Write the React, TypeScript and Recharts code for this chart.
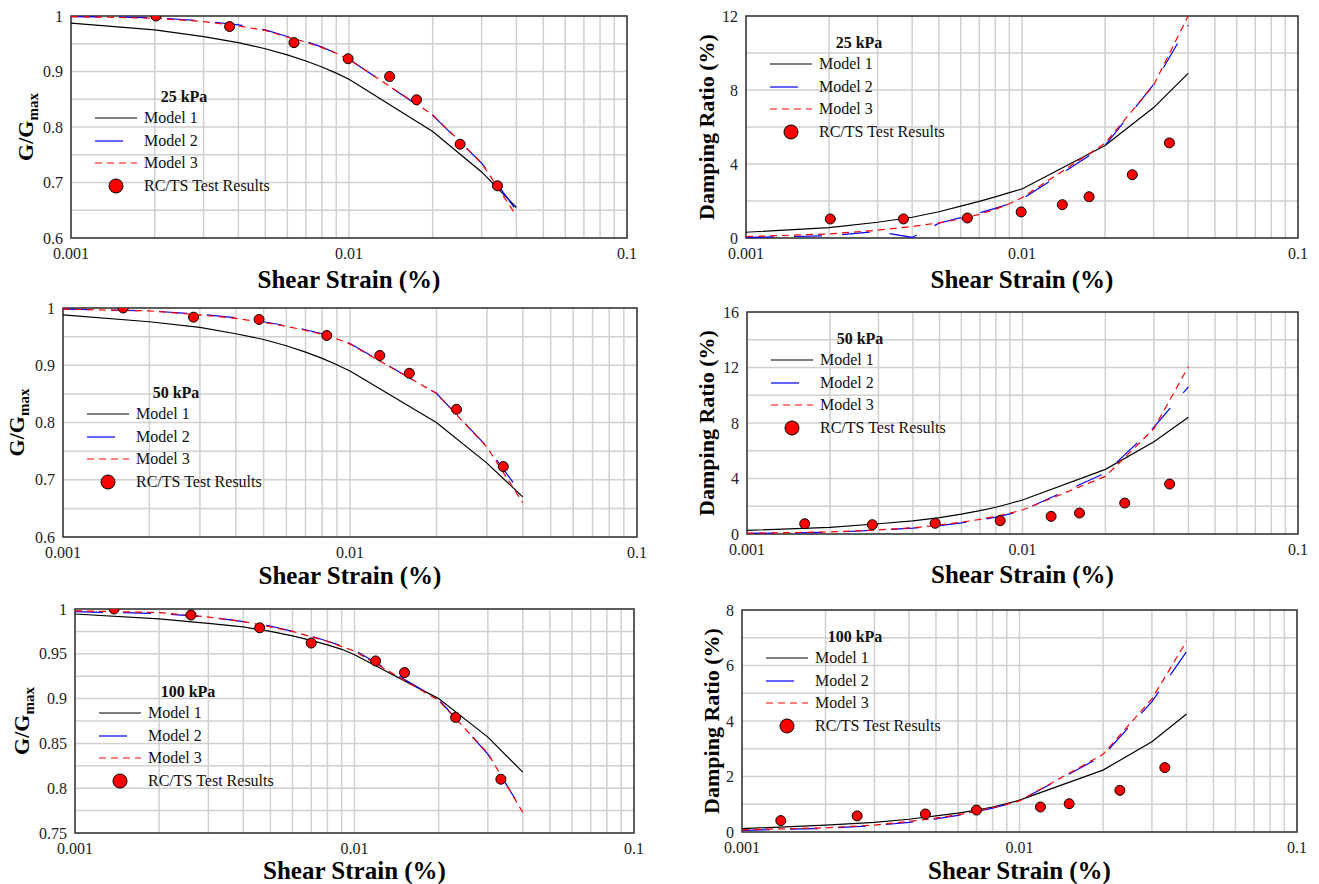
import React from "react";
import {
  ComposedChart,
  Line,
  Scatter,
  XAxis,
  YAxis,
  CartesianGrid,
  ReferenceArea,
} from "recharts";

const FONT = '"Liberation Serif", "Times New Roman", serif';

// strain values (%) at which the three models are evaluated
const strain = [0.001, 0.002, 0.003, 0.004, 0.005, 0.006, 0.007, 0.008, 0.009, 0.01, 0.02, 0.03, 0.04];

const xTicks = [
  0.001, 0.002, 0.003, 0.004, 0.005, 0.006, 0.007, 0.008, 0.009,
  0.01, 0.02, 0.03, 0.04, 0.05, 0.06, 0.07, 0.08, 0.09, 0.1,
];
const xTickLabels = [
  "0.001", "", "", "", "", "", "", "", "",
  "0.01", "", "", "", "", "", "", "", "",
  "0.1",
];

// y ticks (every grid line) and their labels
const gTicks = [0.6, 0.65, 0.7, 0.75, 0.8, 0.85, 0.9, 0.95, 1];
const gTickLabels = ["0.6", "", "0.7", "", "0.8", "", "0.9", "", "1"];
const g100Ticks = [0.75, 0.775, 0.8, 0.825, 0.85, 0.875, 0.9, 0.925, 0.95, 0.975, 1];
const g100TickLabels = ["0.75", "", "0.8", "", "0.85", "", "0.9", "", "0.95", "", "1"];
const d25Ticks = [0, 2, 4, 6, 8, 10, 12];
const d25TickLabels = ["0", "", "4", "", "8", "", "12"];
const d50Ticks = [0, 2, 4, 6, 8, 10, 12, 14, 16];
const d50TickLabels = ["0", "", "4", "", "8", "", "12", "", "16"];
const d100Ticks = [0, 1, 2, 3, 4, 5, 6, 7, 8];
const d100TickLabels = ["0", "", "2", "", "4", "", "6", "", "8"];

// 25 kPa
const g25Model1 = [0.987, 0.975, 0.963, 0.952, 0.941, 0.93, 0.919, 0.908, 0.897, 0.886, 0.792, 0.719, 0.655];
const g25Model2 = [0.999, 0.997, 0.991, 0.984, 0.975, 0.963, 0.954, 0.944, 0.933, 0.922, 0.821, 0.735, 0.65];
const g25Model3 = [0.999, 0.996, 0.99, 0.982, 0.974, 0.962, 0.953, 0.943, 0.933, 0.922, 0.822, 0.735, 0.64];
const d25Model1 = [0.31, 0.56, 0.85, 1.12, 1.42, 1.72, 1.98, 2.22, 2.45, 2.65, 5.0, 7.05, 8.9];
const d25Model2 = [0.03, 0.12, 0.35, 0.03, 0.8, 1.1, 1.35, 1.6, 1.85, 2.1, 5.0, 8.3, 11.5];
const d25Model3 = [0.07, 0.22, 0.42, 0.62, 0.82, 1.03, 1.28, 1.55, 1.85, 2.18, 5.12, 8.27, 12.0];
const test25Strain = [0.00202, 0.00372, 0.00634, 0.00993, 0.014, 0.0175, 0.0251, 0.0342];
const test25G = [1.0, 0.981, 0.952, 0.923, 0.891, 0.849, 0.769, 0.694];
const test25D = [1.03, 1.03, 1.08, 1.41, 1.8, 2.23, 3.42, 5.14];

// 50 kPa
const g50Model1 = [0.988, 0.976, 0.966, 0.955, 0.945, 0.934, 0.923, 0.912, 0.901, 0.89, 0.8, 0.729, 0.67];
const g50Model2 = [0.998, 0.995, 0.989, 0.983, 0.976, 0.969, 0.962, 0.955, 0.947, 0.938, 0.851, 0.758, 0.672];
const g50Model3 = [0.998, 0.995, 0.988, 0.982, 0.975, 0.968, 0.961, 0.954, 0.946, 0.937, 0.851, 0.757, 0.66];
const d50Model1 = [0.26, 0.48, 0.74, 0.95, 1.18, 1.43, 1.68, 1.93, 2.2, 2.45, 4.66, 6.65, 8.41];
const d50Model2 = [0.04, 0.12, 0.28, 0.42, 0.6, 0.8, 1.0, 1.22, 1.45, 1.7, 4.4, 7.7, 10.6];
const d50Model3 = [0.05, 0.15, 0.3, 0.45, 0.65, 0.85, 1.05, 1.28, 1.5, 1.73, 4.15, 7.6, 12.06];
const test50Strain = [0.00162, 0.00285, 0.00482, 0.0083, 0.0127, 0.0161, 0.0235, 0.0342];
const test50G = [1.0, 0.984, 0.98, 0.952, 0.917, 0.886, 0.823, 0.723];
const test50D = [0.74, 0.67, 0.77, 0.96, 1.27, 1.51, 2.23, 3.6];

// 100 kPa
const g100Model1 = [0.9944, 0.989, 0.984, 0.98, 0.975, 0.97, 0.965, 0.96, 0.955, 0.949, 0.9, 0.857, 0.818];
const g100Model2 = [0.997, 0.995, 0.991, 0.986, 0.981, 0.975, 0.97, 0.964, 0.959, 0.954, 0.899, 0.838, 0.774];
const g100Model3 = [0.998, 0.996, 0.991, 0.986, 0.98, 0.975, 0.969, 0.964, 0.958, 0.953, 0.898, 0.839, 0.773];
const d100Model1 = [0.12, 0.25, 0.35, 0.46, 0.58, 0.68, 0.79, 0.9, 1.02, 1.15, 2.23, 3.25, 4.25];
const d100Model2 = [0.06, 0.13, 0.23, 0.35, 0.47, 0.6, 0.73, 0.86, 0.99, 1.12, 2.75, 4.7, 6.5];
const d100Model3 = [0.08, 0.15, 0.25, 0.38, 0.5, 0.62, 0.75, 0.88, 1.0, 1.12, 2.8, 4.8, 6.88];
const test100Strain = [0.00138, 0.0026, 0.00458, 0.007, 0.0119, 0.0151, 0.023, 0.0334];
const test100G = [1.0, 0.9933, 0.979, 0.962, 0.942, 0.929, 0.879, 0.81];
const test100D = [0.41, 0.58, 0.65, 0.79, 0.9, 1.02, 1.5, 2.32];

const MT = 10;
const MB = 60;

function labelFor(ticks: number[], labels: string[]) {
  return (v: number) => {
    const i = ticks.findIndex((t) => Math.abs(t - v) < 1e-9);
    return i >= 0 ? labels[i] : "";
  };
}

function TestDot(props: any) {
  if (props.cx == null || props.cy == null) return null;
  return <circle cx={props.cx} cy={props.cy} r={5} fill="#ff0000" stroke="#000" strokeWidth={1} />;
}

const legendRows = [21, 44, 66, 89];

function LegendBox({ left, top, pressure }: { left: number; top: number; pressure: string }) {
  const textStyle: React.CSSProperties = {
    position: "absolute",
    height: 18,
    lineHeight: "18px",
    fontSize: 16,
    whiteSpace: "nowrap",
    color: "#111",
  };
  const names = ["Model 1", "Model 2", "Model 3", "RC/TS Test Results"];
  return (
    <div style={{ position: "absolute", left, top, fontFamily: FONT }}>
      <div style={{ ...textStyle, left: 113 - 50, width: 100, top: -9, textAlign: "center", fontWeight: "bold" }}>
        {pressure}
      </div>
      {names.map((n, i) => (
        <React.Fragment key={n}>
          <svg
            width={46}
            height={18}
            style={{ position: "absolute", left: 22, top: legendRows[i] - 9 }}
          >
            {i === 0 && <line x1={2} x2={44} y1={9} y2={9} stroke="#000" strokeWidth={1.2} />}
            {i === 1 && <line x1={2} x2={44} y1={9} y2={9} stroke="#0000ff" strokeWidth={1.2} strokeDasharray="28 20" />}
            {i === 2 && <line x1={2} x2={44} y1={9} y2={9} stroke="#ff0000" strokeWidth={1.2} strokeDasharray="7 5" />}
            {i === 3 && <circle cx={23} cy={9} r={7} fill="#ff0000" stroke="#000" strokeWidth={1} />}
          </svg>
          <div style={{ ...textStyle, left: 73, top: legendRows[i] - 9 }}>{n}</div>
        </React.Fragment>
      ))}
    </div>
  );
}

interface PanelProps {
  chartLeft: number;
  plotLeft: number;
  plotTop: number;
  plotW: number;
  plotH: number;
  mr: number;
  yDomain: [number, number];
  yTicks: number[];
  yTickLabels: string[];
  kind: "g" | "d";
  yTitleOff: number;
  xTitleDy: number;
  m1: number[];
  m2: number[];
  m3: number[];
  testX: number[];
  testY: number[];
  pressure: string;
  legendTop: number;
}

function Panel(p: PanelProps) {
  const ml = p.plotLeft - p.chartLeft;
  const width = ml + p.plotW + p.mr;
  const height = MT + p.plotH + MB;
  const rows = strain.map((x, i) => ({ x, m1: p.m1[i], m2: p.m2[i], m3: p.m3[i] }));
  const tests = p.testX.map((x, i) => ({ x, y: p.testY[i] }));
  const tick = { fontSize: 16, fill: "#222", fontFamily: FONT };

  const xTitle = (lp: any) => {
    const vb = lp.viewBox || {};
    return (
      <text
        x={vb.x + vb.width / 2}
        y={vb.y + p.xTitleDy}
        textAnchor="middle"
        dominantBaseline="central"
        fontFamily={FONT}
        fontWeight="bold"
        fontSize={25}
        fill="#000"
      >
        Shear Strain (%)
      </text>
    );
  };

  const yTitle = (lp: any) => {
    const vb = lp.viewBox || {};
    const cx = vb.x + vb.width - p.yTitleOff;
    const cy = vb.y + vb.height / 2;
    return (
      <text
        x={cx}
        y={cy}
        transform={`rotate(-90 ${cx} ${cy})`}
        textAnchor="middle"
        fontFamily={FONT}
        fontWeight="bold"
        fontSize={22}
        fill="#000"
      >
        {p.kind === "g" ? (
          <>
            <tspan>G/G</tspan>
            <tspan fontSize={15} dy={5}>max</tspan>
          </>
        ) : (
          "Damping Ratio (%)"
        )}
      </text>
    );
  };

  return (
    <div style={{ position: "absolute", left: p.chartLeft, top: p.plotTop - MT }}>
      <ComposedChart
        width={width}
        height={height}
        data={rows}
        margin={{ top: MT, right: p.mr, bottom: 0, left: 0 }}
      >
        <CartesianGrid stroke="#d0d0d0" strokeWidth={1.5} />
        <XAxis
          dataKey="x"
          type="number"
          scale="log"
          domain={[0.001, 0.1]}
          allowDataOverflow
          ticks={xTicks}
          interval={0}
          tickLine={false}
          axisLine={false}
          tickMargin={4}
          height={MB}
          tick={tick}
          tickFormatter={labelFor(xTicks, xTickLabels)}
          label={xTitle}
        />
        <YAxis
          type="number"
          domain={p.yDomain}
          allowDataOverflow
          ticks={p.yTicks}
          interval={0}
          tickLine={false}
          axisLine={false}
          width={ml}
          tick={tick}
          tickFormatter={labelFor(p.yTicks, p.yTickLabels)}
          label={yTitle}
        />
        <ReferenceArea
          x1={0.001}
          x2={0.1}
          y1={p.yDomain[0]}
          y2={p.yDomain[1]}
          fill="none"
          stroke="#333"
          strokeWidth={1.5}
          ifOverflow="visible"
        />
        <Line type="linear" dataKey="m1" stroke="#000" strokeWidth={1.2} dot={false} isAnimationActive={false} />
        <Line
          type="linear"
          dataKey="m2"
          stroke="#0000ff"
          strokeWidth={1.2}
          strokeDasharray="28 20"
          dot={false}
          isAnimationActive={false}
        />
        <Line
          type="linear"
          dataKey="m3"
          stroke="#ff0000"
          strokeWidth={1.2}
          strokeDasharray="7 5"
          dot={false}
          isAnimationActive={false}
        />
        <Scatter data={tests} dataKey="y" shape={TestDot} isAnimationActive={false} />
      </ComposedChart>
      <LegendBox left={ml} top={MT + p.legendTop} pressure={p.pressure} />
    </div>
  );
}

export default function App() {
  return (
    <div
      style={{
        position: "absolute",
        left: 0,
        top: 0,
        width: 1319,
        height: 884,
        background: "#fff",
        overflow: "hidden",
        fontFamily: FONT,
      }}
    >
      <Panel
        chartLeft={0} plotLeft={71} plotTop={16} plotW={556} plotH={222} mr={15}
        yDomain={[0.6, 1]} yTicks={gTicks} yTickLabels={gTickLabels}
        kind="g" yTitleOff={38} xTitleDy={41}
        m1={g25Model1} m2={g25Model2} m3={g25Model3}
        testX={test25Strain} testY={test25G} pressure="25 kPa" legendTop={81}
      />
      <Panel
        chartLeft={680} plotLeft={746} plotTop={16} plotW={552} plotH={222} mr={15}
        yDomain={[0, 12]} yTicks={d25Ticks} yTickLabels={d25TickLabels}
        kind="d" yTitleOff={32} xTitleDy={41}
        m1={d25Model1} m2={d25Model2} m3={d25Model3}
        testX={test25Strain} testY={test25D} pressure="25 kPa" legendTop={27}
      />
      <Panel
        chartLeft={0} plotLeft={63} plotTop={308} plotW={574} plotH={229} mr={14}
        yDomain={[0.6, 1]} yTicks={gTicks} yTickLabels={gTickLabels}
        kind="g" yTitleOff={39} xTitleDy={38}
        m1={g50Model1} m2={g50Model2} m3={g50Model3}
        testX={test50Strain} testY={test50G} pressure="50 kPa" legendTop={85}
      />
      <Panel
        chartLeft={680} plotLeft={747} plotTop={312} plotW={551} plotH={222} mr={15}
        yDomain={[0, 16]} yTicks={d50Ticks} yTickLabels={d50TickLabels}
        kind="d" yTitleOff={33} xTitleDy={40}
        m1={d50Model1} m2={d50Model2} m3={d50Model3}
        testX={test50Strain} testY={test50D} pressure="50 kPa" legendTop={27}
      />
      <Panel
        chartLeft={0} plotLeft={75} plotTop={609} plotW={559} plotH={224} mr={14}
        yDomain={[0.75, 1]} yTicks={g100Ticks} yTickLabels={g100TickLabels}
        kind="g" yTitleOff={46} xTitleDy={37}
        m1={g100Model1} m2={g100Model2} m3={g100Model3}
        testX={test100Strain} testY={test100G} pressure="100 kPa" legendTop={83}
      />
      <Panel
        chartLeft={680} plotLeft={742} plotTop={610} plotW={555} plotH={222} mr={15}
        yDomain={[0, 8]} yTicks={d100Ticks} yTickLabels={d100TickLabels}
        kind="d" yTitleOff={23} xTitleDy={38}
        m1={d100Model1} m2={d100Model2} m3={d100Model3}
        testX={test100Strain} testY={test100D} pressure="100 kPa" legendTop={27}
      />
    </div>
  );
}
